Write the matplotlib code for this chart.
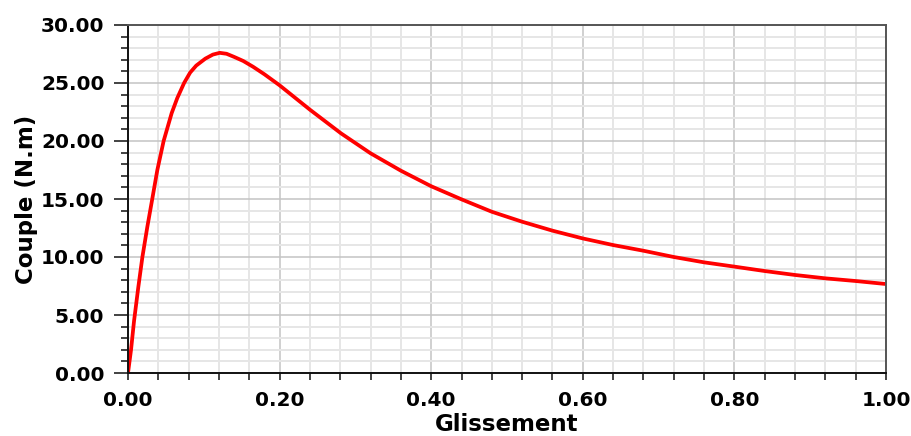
import numpy as np
import matplotlib.pyplot as plt
from matplotlib.ticker import MultipleLocator, FormatStrFormatter

# glissement (slip) and torque
glissement = [0.0, 0.004, 0.008, 0.0136, 0.019, 0.0255, 0.032, 0.0387, 0.047,
              0.0576, 0.065, 0.074, 0.082, 0.09, 0.102, 0.112, 0.121, 0.13,
              0.14, 0.152, 0.165, 0.18, 0.2, 0.24, 0.281, 0.32, 0.36, 0.4,
              0.44, 0.48, 0.52, 0.56, 0.6, 0.64, 0.68, 0.72, 0.76, 0.8, 0.84,
              0.88, 0.92, 0.96, 1.0]
couple = [0.0, 2.0, 4.5, 7.4, 10.0, 12.6, 15.0, 17.5, 20.0,
          22.4, 23.7, 25.0, 25.9, 26.5, 27.1, 27.45, 27.6, 27.52,
          27.25, 26.9, 26.4, 25.75, 24.8, 22.7, 20.66, 18.94, 17.44, 16.1,
          14.97, 13.9, 13.04, 12.27, 11.6, 11.03, 10.54, 10.0, 9.54, 9.17, 8.79,
          8.45, 8.16, 7.93, 7.67]

plt.rcParams['font.family'] = ['DejaVu Sans']
plt.rcParams['font.weight'] = 'bold'

fig = plt.figure(figsize=(9.12, 4.36), dpi=100)
ax = fig.add_axes([128/912, 63/436, 758/912, 348/436])

ax.plot(glissement, couple, color='#ff0000', lw=2.7, solid_joinstyle='round')

ax.set_xlim(0, 1)
ax.set_ylim(0, 30)
ax.xaxis.set_major_locator(MultipleLocator(0.2))
ax.xaxis.set_minor_locator(MultipleLocator(0.04))
ax.yaxis.set_major_locator(MultipleLocator(5))
ax.yaxis.set_minor_locator(MultipleLocator(1))
ax.xaxis.set_major_formatter(FormatStrFormatter('%.2f'))
ax.yaxis.set_major_formatter(FormatStrFormatter('%.2f'))

ax.grid(which='major', color='#c4c4c4', lw=1.1)
ax.grid(which='minor', color='#e6e6e6', lw=1.4)
ax.set_axisbelow(True)

ax.tick_params(axis='x', which='both', length=5, width=1.2, color='#222222', pad=8,
               labelsize=14.5)
ax.tick_params(axis='y', which='major', length=10, width=1.2, color='#222222', pad=7,
               labelsize=14.5)
ax.tick_params(axis='y', which='minor', length=5, width=1.2, color='#222222')

for side in ['left', 'bottom']:
  ax.spines[side].set_color('#111111')
  ax.spines[side].set_linewidth(1.4)
for side in ['top', 'right']:
  ax.spines[side].set_color('#555555')
  ax.spines[side].set_linewidth(1.4)

ax.set_xlabel('Glissement', fontsize=16.5, fontweight='bold', labelpad=2)
ax.set_ylabel('Couple (N.m)', fontsize=16.5, fontweight='bold', labelpad=2)

fig.savefig('out.png', dpi=100)
